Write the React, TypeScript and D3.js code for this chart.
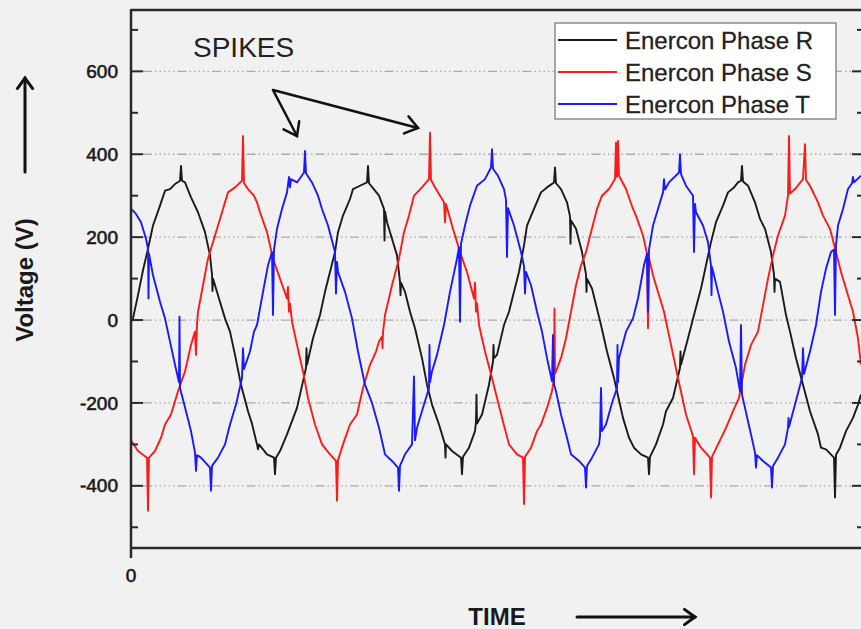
import React, { useEffect, useRef } from 'react';
import * as d3 from 'd3';

// time index (samples) vs voltage
const phaseR = [
  [0, -5], [2, 4], [7, 60], [12, 120], [17, 172], [22, 228], [29, 276], [34, 312], [39, 316], [44, 328], [49, 336], [50, 372], [51, 336],
  [54, 332], [60, 296], [67, 260], [74, 212], [79, 156], [81, 110], [81.5, 70], [82, 100], [87, 60], [94, 4], [99, -28], [104, -84],
  [110, -156], [117, -220], [121, -250], [126, -300], [127, -312], [128, -300], [136, -324], [143, -332], [144, -372], [145, -332],
  [149, -316], [156, -276], [161, -244], [166, -212], [172, -148], [175, -115], [175.5, -68], [176, -108], [182, -44], [189, 12],
  [194, 68], [199, 116], [204, 164], [207, 212], [212, 252], [219, 292], [222, 316], [229, 324], [236, 332], [237, 372], [238, 330],
  [244, 312], [248, 300], [253, 268], [253.5, 192], [254, 262], [256, 236], [261, 196], [266, 156], [269, 92], [269.5, 60], [270, 90],
  [274, 68], [279, 20], [284, -20], [291, -92], [296, -156], [301, -204], [308, -252], [314, -300], [314.5, -332], [315, -300],
  [321, -316], [330, -332], [331, -372], [332, -330], [338, -308], [344, -268], [345, -245], [345.5, -180], [346, -250], [351, -228],
  [358, -156], [362, -100], [362.5, -60], [363, -92], [366, -84], [373, -12], [378, 20], [383, 68], [388, 116], [393, 180], [396, 228],
  [403, 268], [410, 308], [416, 320], [423, 332], [424, 368], [425, 330], [430, 316], [436, 284], [439, 250], [439.5, 184], [440, 240],
  [445, 220], [451, 164], [455, 110], [455.5, 68], [456, 100], [461, 76], [470, -12], [476, -76], [483, -140], [486, -172], [492, -236],
  [498, -284], [503, -308], [510, -324], [517, -332], [518, -372], [519, -330], [525, -300], [532, -252], [535, -220], [542, -188],
  [549, -115], [549.5, -76], [550, -108], [557, -44], [563, 12], [570, 76], [575, 132], [580, 188], [585, 236], [592, 276], [597, 308],
  [603, 320], [607, 332], [610, 336], [611, 372], [612, 334], [617, 324], [624, 284], [629, 244], [634, 220], [640, 164], [643, 110],
  [643.5, 68], [644, 100], [649, 92], [655, 12], [659, -28], [665, -92], [672, -156], [679, -220], [687, -276], [690, -308], [695, -312],
  [703, -332], [704, -428], [705, -325], [709, -308], [715, -268], [722, -236], [727, -204], [730, -180],
];

const phaseS = [
  [0, -290], [7, -316], [16, -332], [17, -460], [18, -332], [24, -316], [30, -284], [34, -252], [40, -228], [47, -172], [54, -124],
  [60, -60], [64, -28], [65, -84], [66, -10], [67, 20], [72, 84], [77, 148], [84, 204], [89, 244], [94, 284], [97, 308], [104, 320],
  [111, 336], [112, 444], [113, 330], [117, 316], [123, 300], [126, 284], [129, 260], [136, 212], [142, 148], [149, 100], [156, 52],
  [157, 80], [158, 20], [159, 40], [161, -4], [166, -60], [172, -124], [177, -188], [184, -252], [191, -300], [199, -324], [205, -340],
  [206, -436], [207, -338], [212, -300], [219, -252], [226, -228], [232, -164], [239, -108], [245, -76], [248, -52], [251, -40],
  [251.5, -68], [252, -30], [254, 12], [261, 84], [268, 148], [273, 212], [278, 252], [283, 300], [291, 320], [298, 340], [299, 452],
  [300, 338], [306, 312], [313, 284], [314, 236], [315, 280], [321, 228], [329, 164], [336, 116], [343, 52], [344, 90], [345, 20],
  [346, 40], [348, -12], [354, -76], [361, -140], [366, -188], [371, -236], [378, -300], [386, -324], [392, -332], [393, -444],
  [394, -330], [400, -308], [406, -268], [410, -252], [416, -212], [421, -172], [423, -140], [423.5, 28], [424, -130], [430, -92],
  [435, -44], [440, 20], [445, 84], [450, 132], [455, 164], [460, 212], [466, 268], [471, 300], [478, 316], [484, 340], [485, 428],
  [486, 345], [487, 432], [488, 348], [495, 316], [502, 268], [505, 252], [512, 204], [516, 160], [517, -20], [518, 150], [522, 108],
  [528, 60], [533, 20], [540, -60], [547, -140], [555, -228], [562, -280], [563, -372], [564, -284], [570, -308], [579, -332],
  [580, -428], [581, -330], [587, -300], [595, -260], [602, -220], [608, -188], [614, -108], [620, -60], [627, -28], [632, 36],
  [637, 100], [642, 156], [647, 204], [654, 252], [657, 300], [658, 444], [659, 305], [664, 316], [672, 340], [674, 424], [675, 338],
  [679, 324], [687, 284], [692, 252], [699, 220], [705, 164], [710, 116], [717, 60], [722, 20], [727, -44], [730, -108],
];

const phaseT = [
  [0, 268], [2, 264], [5, 256], [10, 236], [15, 196], [17, 172], [17.5, 52], [18, 160], [22, 108], [29, 44], [34, 4], [39, -52],
  [44, -108], [48, -150], [48.5, 8], [49, -164], [55, -220], [60, -268], [64, -320], [65, -364], [66, -326], [70, -332], [79, -356],
  [80, -412], [81, -352], [87, -332], [94, -300], [99, -252], [105, -204], [111, -140], [112, -68], [113, -118], [119, -76], [123, -28],
  [126, -12], [132, 68], [137, 132], [141, 164], [142, 12], [143, 170], [146, 220], [151, 268], [156, 308], [158, 345], [159, 320],
  [160, 340], [166, 332], [173, 356], [174, 408], [175, 354], [181, 332], [187, 300], [191, 268], [197, 228], [204, 164], [205, 64],
  [206, 140], [207, 116], [214, 68], [221, 4], [227, -76], [234, -156], [241, -200], [248, -260], [254, -324], [261, -340], [267, -356],
  [268, -412], [269, -352], [274, -324], [281, -300], [283, -136], [284, -290], [286, -260], [293, -204], [298, -164], [298.5, -60],
  [299, -150], [301, -124], [306, -84], [313, -12], [319, 68], [326, 148], [328, 176], [329, -4], [330, 184], [334, 228], [339, 276],
  [346, 324], [354, 340], [360, 368], [361, 412], [362, 365], [367, 348], [373, 316], [375, 290], [376, 152], [377, 270], [383, 228],
  [390, 164], [393, 130], [394, 64], [395, 116], [400, 84], [406, 20], [411, -28], [416, -92], [421, -148], [422, -36], [423, -155],
  [425, -172], [430, -228], [436, -284], [440, -324], [448, -340], [454, -356], [455, -404], [456, -352], [461, -332], [468, -300],
  [469, -280], [470, -164], [471, -268], [475, -252], [481, -200], [486, -164], [486.5, -60], [487, -150], [488, -92], [495, -28],
  [502, 4], [507, 52], [513, 132], [516, 160], [517, 20], [518, 170], [522, 228], [527, 268], [532, 308], [533, 340], [534, 315],
  [538, 332], [548, 356], [549, 400], [550, 352], [555, 324], [562, 300], [563, 164], [564, 280], [565, 260], [572, 228], [577, 188],
  [580, 132], [580.5, 60], [581, 128], [587, 68], [592, 20], [598, -52], [605, -116], [609, -172], [610, -12], [611, -180], [614, -212],
  [620, -276], [624, -320], [625, -356], [626, -326], [632, -340], [640, -356], [641, -404], [642, -352], [647, -332], [654, -300],
  [657, -260], [657.5, -236], [658, -258], [664, -204], [671, -140], [672, -68], [673, -130], [679, -76], [685, -12], [690, 68],
  [695, 124], [700, 164], [703, 170], [704, 12], [705, 180], [707, 228], [712, 268], [717, 316], [721, 330], [722, 345], [723, 332],
  [730, 348],
];

const seriesNames = ['Enercon Phase R', 'Enercon Phase S', 'Enercon Phase T'];
const seriesColors = ['#1a1a1a', '#ff1a1a', '#1a1aff'];
const yMajorTicks = [-400, -200, 0, 200, 400, 600];
const yMinorTicks = [-500, -300, -100, 100, 300, 500, 700];
const xTickLabels = [0];

const FONT = '"Liberation Sans", Arial, sans-serif';

const App = () => {
  const svgRef = useRef(null);

  useEffect(() => {
    const W = 861;
    const H = 629;
    const svg = d3.select(svgRef.current);
    svg.selectAll('*').remove();
    svg.attr('width', W).attr('height', H);

    const left = 131, right = 864, top = 10, bottom = 548;
    const x = d3.scaleLinear().domain([0, 733]).range([left, right]);
    const y = d3.scaleLinear().domain([-550, 748]).range([bottom, top]);

    svg.append('rect').attr('width', W).attr('height', H).attr('fill', '#f1f1f1');

    svg.append('defs').append('clipPath').attr('id', 'plotclip')
      .append('rect').attr('x', left).attr('y', top).attr('width', right - left).attr('height', bottom - top);

    // grid
    svg.append('g').selectAll('line').data(yMajorTicks).enter().append('line')
      .attr('x1', left + 12).attr('x2', right - 12)
      .attr('y1', d => y(d)).attr('y2', d => y(d))
      .attr('stroke', '#aaaaaa').attr('stroke-width', 1.3)
      .attr('stroke-dasharray', '9,3,1.5,3,1.5,3,1.5,3,1.5,3,1.5,3');

    // series
    const line = d3.line().x(d => x(d[0])).y(d => y(d[1]));
    const plot = svg.append('g').attr('clip-path', 'url(#plotclip)');
    [phaseR, phaseS, phaseT].forEach((data, i) => {
      plot.append('path').datum(data).attr('d', line)
        .attr('fill', 'none').attr('stroke', seriesColors[i])
        .attr('stroke-width', 1.9).attr('stroke-linejoin', 'round');
    });

    // frame
    const ax = svg.append('g').attr('stroke', '#2a2a2a');
    ax.append('line').attr('x1', left).attr('x2', W).attr('y1', top).attr('y2', top).attr('stroke-width', 2.5);
    ax.append('line').attr('x1', left).attr('x2', W).attr('y1', bottom).attr('y2', bottom).attr('stroke-width', 2.5);
    ax.append('line').attr('x1', left).attr('x2', left).attr('y1', top - 1).attr('y2', bottom + 10).attr('stroke-width', 2.5);

    yMajorTicks.forEach(v => {
      ax.append('line').attr('x1', left).attr('x2', left + 12).attr('y1', y(v)).attr('y2', y(v)).attr('stroke-width', 2);
      ax.append('line').attr('x1', right - 12).attr('x2', right).attr('y1', y(v)).attr('y2', y(v)).attr('stroke-width', 2);
    });
    yMinorTicks.forEach(v => {
      ax.append('line').attr('x1', left).attr('x2', left + 7).attr('y1', y(v)).attr('y2', y(v)).attr('stroke-width', 2);
      ax.append('line').attr('x1', right - 7).attr('x2', right).attr('y1', y(v)).attr('y2', y(v)).attr('stroke-width', 2);
    });

    svg.append('g').selectAll('text').data(yMajorTicks).enter().append('text')
      .attr('x', 118).attr('y', d => y(d)).attr('dy', '0.35em')
      .attr('text-anchor', 'end').attr('font-family', FONT).attr('font-size', 19)
      .attr('fill', '#1a1a1a').attr('stroke', '#1a1a1a').attr('stroke-width', 0.6)
      .text(d => d);

    svg.append('g').selectAll('text').data(xTickLabels).enter().append('text')
      .attr('x', d => x(d)).attr('y', 582).attr('text-anchor', 'middle')
      .attr('font-family', FONT).attr('font-size', 19)
      .attr('fill', '#1a1a1a').attr('stroke', '#1a1a1a').attr('stroke-width', 0.6)
      .text(d => d);

    // arrows
    const arrow = (x1, y1, x2, y2, size, width) => {
      const g = svg.append('g').attr('stroke', '#111').attr('stroke-width', width)
        .attr('fill', 'none').attr('stroke-linecap', 'round');
      g.append('line').attr('x1', x1).attr('y1', y1).attr('x2', x2).attr('y2', y2);
      const a = Math.atan2(y2 - y1, x2 - x1);
      const p = (s) => [x2 - size * Math.cos(a + s), y2 - size * Math.sin(a + s)];
      const [ax1, ay1] = p(Math.PI / 5);
      const [ax2, ay2] = p(-Math.PI / 5);
      g.append('path').attr('d', `M${ax1},${ay1}L${x2},${y2}L${ax2},${ay2}`).attr('stroke-linejoin', 'miter');
    };

    arrow(25, 172, 25, 78, 13, 3);
    arrow(577, 617, 695, 617, 13, 3);
    arrow(273, 90, 297, 136, 15, 2.5);
    arrow(273, 90, 418, 128, 15, 2.5);

    svg.append('text').attr('x', 193).attr('y', 57)
      .attr('font-family', FONT).attr('font-size', 28).attr('fill', '#222')
      .text('SPIKES');

    svg.append('text').attr('transform', 'translate(33,280) rotate(-90)')
      .attr('text-anchor', 'middle').attr('font-family', FONT).attr('font-size', 24)
      .attr('font-weight', 'bold').attr('fill', '#1a1a1a')
      .text('Voltage (V)');

    svg.append('text').attr('x', 497).attr('y', 625).attr('text-anchor', 'middle')
      .attr('font-family', FONT).attr('font-size', 24)
      .attr('font-weight', 'bold').attr('fill', '#1a1a1a')
      .text('TIME');

    // legend
    const lg = svg.append('g');
    lg.append('rect').attr('x', 555).attr('y', 23).attr('width', 281).attr('height', 96)
      .attr('fill', '#ffffff').attr('stroke', '#8a8a8a').attr('stroke-width', 1.5);
    seriesNames.forEach((name, i) => {
      const ly = 40 + i * 32;
      lg.append('line').attr('x1', 558).attr('x2', 617).attr('y1', ly).attr('y2', ly)
        .attr('stroke', seriesColors[i]).attr('stroke-width', 2);
      lg.append('text').attr('x', 625).attr('y', ly).attr('dy', '0.36em')
        .attr('font-family', FONT).attr('font-size', 24).attr('fill', '#222')
        .attr('stroke', '#222').attr('stroke-width', 0.3)
        .text(name);
    });
  }, []);

  return (
    <div style={{ position: 'fixed', left: 0, top: 0, width: 861, height: 629, background: '#f1f1f1' }}>
      <svg ref={svgRef} style={{ display: 'block' }}></svg>
    </div>
  );
};

export default App;
